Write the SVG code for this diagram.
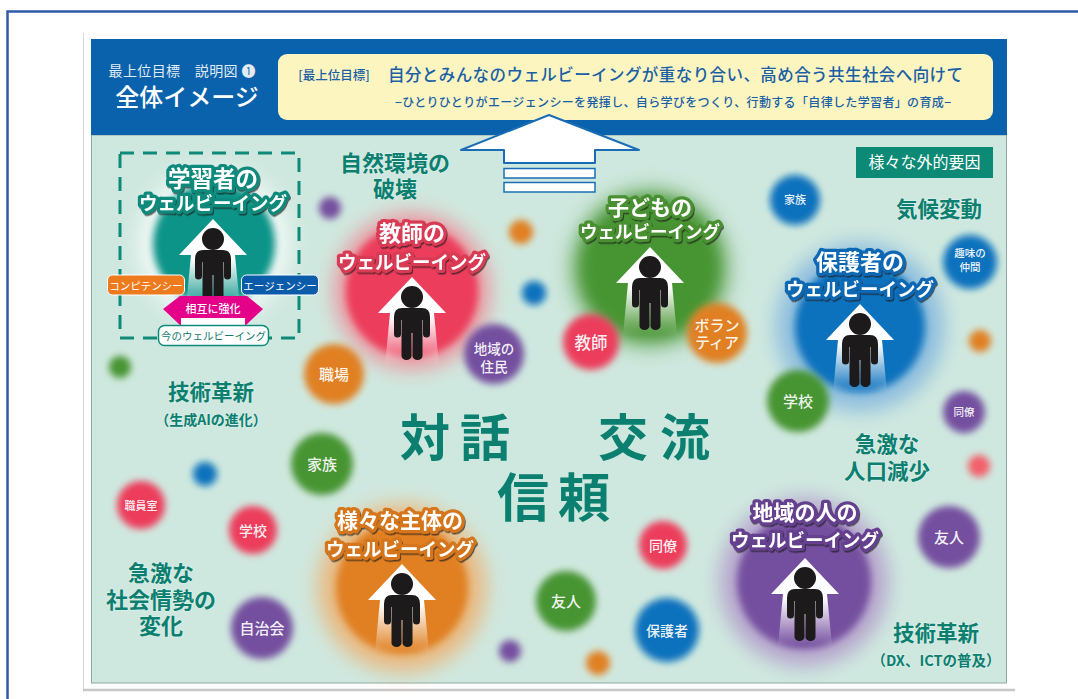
<svg xmlns="http://www.w3.org/2000/svg" width="1078" height="699" viewBox="0 0 1078 699">
<style>
text{font-family:"Noto Sans CJK JP","Noto Sans",sans-serif;text-anchor:middle}
.wb{font-weight:700;fill:#fff;stroke-width:6.5px;paint-order:stroke;stroke-linejoin:round;filter:url(#sh)}
.g{font-weight:700;fill:#0b8070;stroke:#fff;stroke-opacity:.3;stroke-width:1.5px;paint-order:stroke}
.big{font-weight:700;fill:#0b8070}
.s{fill:#fff;font-weight:500;fill-opacity:.93}
.b1{filter:url(#b1)}.b2{filter:url(#b2)}.b3{filter:url(#b3)}.b4{filter:url(#b4)}.b8{filter:url(#b8)}
.teal{fill:#0f9488}.red{fill:#ec3d5c}.green{fill:#479432}.blue{fill:#0b72bd}.orange{fill:#e08020}.purple{fill:#75509f}
.st{stroke:#0f8a7c}.sr{stroke:#d93a55}.sg{stroke:#4a9030}.sb{stroke:#0f68b4}.so{stroke:#d5761a}.sp{stroke:#65408f}
.hd{fill:#1860a8}
</style>
<defs>
<filter id="b1" x="-50%" y="-50%" width="200%" height="200%"><feGaussianBlur stdDeviation="3.5"/></filter>
<filter id="b2" x="-50%" y="-50%" width="200%" height="200%"><feGaussianBlur stdDeviation="3.5"/></filter>
<filter id="b3" x="-50%" y="-50%" width="200%" height="200%"><feGaussianBlur stdDeviation="5"/></filter>
<filter id="b4" x="-50%" y="-50%" width="200%" height="200%"><feGaussianBlur stdDeviation="7"/></filter>
<filter id="b8" x="-50%" y="-50%" width="200%" height="200%"><feGaussianBlur stdDeviation="10"/></filter>
<filter id="sh" x="-10%" y="-20%" width="120%" height="140%"><feDropShadow dx="1" dy="1.5" stdDeviation=".4" flood-color="#1c1c1c" flood-opacity=".7"/></filter>
<linearGradient id="fade" x1="0" y1="0" x2="0" y2="1"><stop offset=".45" stop-color="#fff"/><stop offset="1" stop-color="#fff" stop-opacity="0"/></linearGradient>
<symbol id="man" overflow="visible" width="1" height="1">
<path d="M0,0L34,36H22L27,88H-27L-22,36H-34Z" fill="url(#fade)"/>
<circle cy="20" r="11" fill="#1c1a1b"/>
<path fill="#1c1a1b" d="M-10,31H10Q18,31 18,40V57a3.5,3.5 0 0 1-7,0V43H10.5V79a5,4 0 0 1-10,0V56H-.5V79a5,4 0 0 1-10,0V43H-11V57a3.5,3.5 0 0 1-7,0V40Q-18,31-10,31Z"/>
</symbol>
</defs>
<rect width="1078" height="699" fill="#fff"/>
<path d="M1078,11.500H7.500V699" fill="none" stroke="#2f5ba5" stroke-width="2.500"/>
<path d="M83.500,33V690" stroke="#d5d5d5" fill="none"/>
<path d="M83,690H1015" stroke="#c8c8c8" stroke-width="2.500" fill="none"/>
<rect x="91.500" y="135" width="915" height="548" fill="#cfe8df" stroke="#8fa8a2"/>
<rect x="91" y="39" width="916" height="96" fill="#0a62ad"/>
<rect x="278" y="54" width="715" height="66" rx="9" fill="#fdf5bf"/>
<g id="header">
<text x="182" y="76" font-size="14" fill="#e2ebf2" textLength="147">最上位目標　説明図 ❶</text>
<text x="187" y="106" font-size="24" fill="#fff" font-weight="500">全体イメージ</text>
<text x="334" y="80" font-size="12.500" class="hd" font-weight="500">[最上位目標]</text>
<text x="675.500" y="81" font-size="16.500" class="hd" font-weight="500" textLength="575">自分とみんなのウェルビーイングが重なり合い、高め合う共生社会へ向けて</text>
<text x="673" y="107" font-size="12" class="hd" font-weight="500" textLength="556">−ひとりひとりがエージェンシーを発揮し、自ら学びをつくり、行動する「自律した学習者」の育成−</text>
</g>
<g id="external-label"><rect x="856" y="147" width="137" height="31" fill="#0c8a76"/><text x="924.500" y="168" font-size="16" fill="#fff">様々な外的要因</text></g>

<g id="learner-wb">
<circle cx="214" cy="245" r="76" fill="#fff" opacity=".7" class="b8"/>
<circle cx="214" cy="244" r="61" class="teal b1"/>
<path d="M120,153H299V338H120Z" fill="none" stroke="#0e8a78" stroke-width="3" stroke-dasharray="14 9"/>
<use href="#man" x="213" y="219"/>
<text x="213" y="187" font-size="22.500" class="wb st">学習者の</text>
<text x="213" y="210" font-size="18.500" class="wb st">ウェルビーイング</text>
<rect x="107.500" y="275" width="77" height="20" rx="5" fill="#ed7a1c" stroke="#fff"/>
<text x="146" y="289.500" font-size="10.500" fill="#fff">コンピテンシー</text>
<rect x="241.500" y="275" width="77" height="20" rx="5" fill="#0a5cab" stroke="#fff"/>
<text x="280" y="289.500" font-size="10.500" fill="#fff">エージェンシー</text>
<path d="M163,309L180,296H247L263,309L246,325H180Z" fill="#e5008a"/>
<rect x="181" y="318" width="64" height="8" fill="#fff"/>
<text x="213" y="313" font-size="11" fill="#fff" font-weight="500">相互に強化</text>
<rect x="158.500" y="325.500" width="110" height="20" rx="6" fill="#fff" stroke="#0e8a78" stroke-width="1.500"/>
<text x="213.500" y="340" font-size="10.500" fill="#137a6d">今のウェルビーイング</text>
</g>

<g id="teacher-wb">
<circle cx="412" cy="291" r="78" fill="#f3818f" class="b8" opacity=".8"/>
<circle cx="412" cy="291" r="66" class="red b2"/>
<use href="#man" x="412" y="277"/>
<text x="412" y="241" font-size="22" class="wb sr">教師の</text>
<text x="412" y="269" font-size="18.500" class="wb sr">ウェルビーイング</text>
</g>
<g id="child-wb">
<circle cx="650" cy="268" r="80" class="green b8" opacity=".6"/>
<circle cx="650" cy="268" r="70" class="green b4"/>
<use href="#man" x="650" y="247"/>
<text x="650" y="215" font-size="21" class="wb sg">子どもの</text>
<text x="650" y="238" font-size="17.500" class="wb sg">ウェルビーイング</text>
</g>
<g id="guardian-wb">
<circle cx="860" cy="327" r="84" fill="#7db2de" class="b8" opacity=".8"/>
<circle cx="860" cy="327" r="65" class="blue b2"/>
<use href="#man" x="860" y="304"/>
<text x="860" y="270" font-size="22" class="wb sb">保護者の</text>
<text x="860" y="296" font-size="18.500" class="wb sb">ウェルビーイング</text>
</g>
<g id="various-wb">
<circle cx="402" cy="588" r="84" fill="#eeb070" class="b8" opacity=".85"/>
<circle cx="402" cy="588" r="66" class="orange b2"/>
<use href="#man" x="402" y="564"/>
<text x="400" y="528" font-size="21" class="wb so">様々な主体の</text>
<text x="400" y="556" font-size="18.500" class="wb so">ウェルビーイング</text>
</g>
<g id="community-wb">
<circle cx="804" cy="582" r="84" fill="#b39ccb" class="b8" opacity=".9"/>
<circle cx="804" cy="582" r="67" class="purple b2"/>
<use href="#man" x="805" y="558"/>
<text x="805" y="520" font-size="21" class="wb sp">地域の人の</text>
<text x="805" y="547" font-size="18.500" class="wb sp">ウェルビーイング</text>
</g>

<g id="connectors">
<path d="M549,115L639,150H595V163H504V150H461Z" fill="#fff" stroke="#1a6db5" stroke-width="2" stroke-linejoin="round"/>
<rect x="504" y="168.500" width="91" height="9.500" fill="#fff" stroke="#1a6db5" stroke-width="1.500"/>
<rect x="504" y="182.500" width="91" height="9.500" fill="#fff" stroke="#1a6db5" stroke-width="1.500"/>
</g>

<g id="dots">
<circle cx="330" cy="208" r="11" class="purple b1"/>
<circle cx="521" cy="232" r="12" class="orange b1"/>
<circle cx="534" cy="293" r="12" class="blue b1"/>
<circle cx="120" cy="367" r="11" class="green b1"/>
<circle cx="205" cy="474" r="12" class="blue b1"/>
<circle cx="510" cy="651" r="11" class="purple b1"/>
<circle cx="598" cy="663" r="12" class="orange b1"/>
<circle cx="980" cy="341" r="11" class="orange b1"/>
<circle cx="979" cy="466" r="11" fill="#f2606a" class="b1"/>
</g>
<g id="n-kyoshi"><circle cx="591" cy="342" r="28" class="red b1"/><text x="591" y="349" font-size="16.500" class="s">教師</text></g>
<g id="n-volunteer"><circle cx="717" cy="333" r="30" class="orange b1"/><text x="717" y="331" font-size="15" class="s">ボラン</text><text x="717" y="348" font-size="15" class="s">ティア</text></g>
<g id="n-juumin"><circle cx="494" cy="354" r="30" class="purple b1"/><text x="494" y="354" font-size="13.500" class="s">地域の</text><text x="494" y="372" font-size="13.500" class="s">住民</text></g>
<g id="n-shokuba"><circle cx="334" cy="374" r="30" class="orange b1"/><text x="334" y="380" font-size="15" class="s">職場</text></g>
<g id="n-kazoku1"><circle cx="322" cy="464" r="31" class="green b1"/><text x="322" y="470" font-size="15" class="s">家族</text></g>
<g id="n-shokuinshitsu"><circle cx="141" cy="505" r="24" class="red b1"/><text x="141" y="510" font-size="11" class="s">職員室</text></g>
<g id="n-gakko1"><circle cx="253" cy="530" r="24" class="red b1"/><text x="253" y="536" font-size="14" class="s">学校</text></g>
<g id="n-jichikai"><circle cx="262" cy="628" r="31" class="purple b1"/><text x="262" y="634" font-size="15" class="s">自治会</text></g>
<g id="n-yujin1"><circle cx="566" cy="601" r="30" class="green b1"/><text x="566" y="607" font-size="15" class="s">友人</text></g>
<g id="n-doryo1"><circle cx="663" cy="545" r="24" class="red b1"/><text x="663" y="551" font-size="14" class="s">同僚</text></g>
<g id="n-hogosha"><circle cx="667" cy="630" r="32" class="blue b1"/><text x="667" y="636" font-size="14" class="s">保護者</text></g>
<g id="n-kazoku2"><circle cx="795" cy="200" r="25" class="blue b1"/><text x="795" y="204" font-size="11" class="s">家族</text></g>
<g id="n-shumi"><circle cx="970" cy="262" r="27" class="blue b1"/><text x="970" y="257" font-size="10.500" class="s">趣味の</text><text x="970" y="271" font-size="10.500" class="s">仲間</text></g>
<g id="n-gakko2"><circle cx="798" cy="401" r="31" class="green b1"/><text x="798" y="407" font-size="15" class="s">学校</text></g>
<g id="n-doryo2"><circle cx="964" cy="412" r="21" class="purple b1"/><text x="964" y="416" font-size="10.500" class="s">同僚</text></g>
<g id="n-yujin2"><circle cx="949" cy="537" r="31" class="purple b1"/><text x="949" y="543" font-size="15" class="s">友人</text></g>

<g id="factors">
<text x="395" y="171" font-size="22" class="g">自然環境の</text>
<text x="395" y="197" font-size="22" class="g">破壊</text>
<text x="939" y="217" font-size="21.500" class="g">気候変動</text>
<text x="211" y="400" font-size="21.500" class="g">技術革新</text>
<text x="211" y="425" font-size="14" class="g">（生成AIの進化）</text>
<text x="161" y="581" font-size="22" class="g">急激な</text>
<text x="161" y="608" font-size="22" class="g">社会情勢の</text>
<text x="161" y="634" font-size="22" class="g">変化</text>
<text x="887" y="452" font-size="21.500" class="g">急激な</text>
<text x="887" y="479" font-size="21.500" class="g">人口減少</text>
<text x="936" y="641" font-size="21.500" class="g">技術革新</text>
<text x="936" y="666" font-size="14.500" class="g">（DX、ICTの普及）</text>
</g>
<g id="center-words">
<text x="455" y="456" font-size="50" class="big" textLength="110">対 話</text>
<text x="654" y="456" font-size="50" class="big" textLength="112">交 流</text>
<text x="553.500" y="517" font-size="52" class="big" textLength="113">信 頼</text>
</g>
</svg>
